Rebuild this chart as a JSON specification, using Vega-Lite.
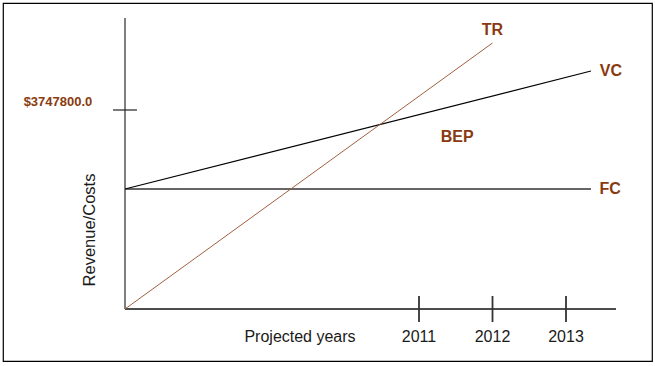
{
  "$schema": "https://vega.github.io/schema/vega-lite/v6.json",
  "width": 655,
  "height": 366,
  "autosize": {"type": "fit", "contains": "padding"},
  "padding": {"left": 3, "top": 3, "right": 3, "bottom": 5},
  "background": "white",
  "config": {"view": {"stroke": "#000", "strokeWidth": 1.2}},
  "layer": [
    {
      "data": {"values": [{"x": 2007, "x2": 2007, "y": 0, "y2": 5480000}]},
      "mark": {"type": "rule", "color": "#555", "strokeWidth": 1.5},
      "encoding": {
        "x": {"field": "x", "type": "quantitative", "scale": {"domain": [2005.3401, 2014.17], "nice": false, "zero": false}, "axis": null},
        "x2": {"field": "x2"},
        "y": {"field": "y", "type": "quantitative", "scale": {"domain": [-979325, 5762950], "nice": false, "zero": false}, "axis": null},
        "y2": {"field": "y2"}
      }
    },
    {
      "data": {"values": [{"x": 2007, "x2": 2013.68, "y": 0, "y2": 0}]},
      "mark": {"type": "rule", "color": "#111", "strokeWidth": 1.5},
      "encoding": {
        "x": {"field": "x", "type": "quantitative"},
        "x2": {"field": "x2"},
        "y": {"field": "y", "type": "quantitative"},
        "y2": {"field": "y2"}
      }
    },
    {
      "data": {"values": [{"x": 2006.837, "x2": 2007.163, "y": 3747800, "y2": 3747800}]},
      "mark": {"type": "rule", "color": "#222", "strokeWidth": 1.2},
      "encoding": {
        "x": {"field": "x", "type": "quantitative"},
        "x2": {"field": "x2"},
        "y": {"field": "y", "type": "quantitative"},
        "y2": {"field": "y2"}
      }
    },
    {
      "data": {"values": [
        {"x": 2011, "x2": 2011, "y": -244800, "y2": 244800},
        {"x": 2012, "x2": 2012, "y": -244800, "y2": 244800},
        {"x": 2013, "x2": 2013, "y": -244800, "y2": 244800}
      ]},
      "mark": {"type": "rule", "color": "#333", "strokeWidth": 1.8},
      "encoding": {
        "x": {"field": "x", "type": "quantitative"},
        "x2": {"field": "x2"},
        "y": {"field": "y", "type": "quantitative"},
        "y2": {"field": "y2"}
      }
    },
    {
      "data": {"values": [{"x": 2007, "x2": 2013.34, "y": 2260000, "y2": 2260000}]},
      "mark": {"type": "rule", "color": "#666", "strokeWidth": 2},
      "encoding": {
        "x": {"field": "x", "type": "quantitative"},
        "x2": {"field": "x2"},
        "y": {"field": "y", "type": "quantitative"},
        "y2": {"field": "y2"}
      }
    },
    {
      "data": {"values": [{"x": 2007, "x2": 2013.34, "y": 2260000, "y2": 4482300}]},
      "mark": {"type": "rule", "color": "#000", "strokeWidth": 1.2},
      "encoding": {
        "x": {"field": "x", "type": "quantitative"},
        "x2": {"field": "x2"},
        "y": {"field": "y", "type": "quantitative"},
        "y2": {"field": "y2"}
      }
    },
    {
      "data": {"values": [{"x": 2007, "x2": 2012, "y": 0, "y2": 5009600}]},
      "mark": {"type": "rule", "color": "#a0603f", "strokeWidth": 1},
      "encoding": {
        "x": {"field": "x", "type": "quantitative"},
        "x2": {"field": "x2"},
        "y": {"field": "y", "type": "quantitative"},
        "y2": {"field": "y2"}
      }
    },
    {
      "data": {"values": [
        {"x": 2012, "y": 5254400, "label": "TR"},
        {"x": 2013.61, "y": 4482300, "label": "VC"},
        {"x": 2013.6, "y": 2260000, "label": "FC"},
        {"x": 2011.52, "y": 3239300, "label": "BEP"}
      ]},
      "mark": {"type": "text", "font": "Liberation Sans", "fontSize": 16, "fontWeight": "bold", "color": "#8a3a10", "align": "center", "baseline": "middle"},
      "encoding": {
        "x": {"field": "x", "type": "quantitative"},
        "y": {"field": "y", "type": "quantitative"},
        "text": {"field": "label"}
      }
    },
    {
      "data": {"values": [{"x": 2006.088, "y": 3898500, "label": "$3747800.0"}]},
      "mark": {"type": "text", "font": "Liberation Sans", "fontSize": 13, "fontWeight": "bold", "color": "#8a3a10", "align": "center", "baseline": "middle"},
      "encoding": {
        "x": {"field": "x", "type": "quantitative"},
        "y": {"field": "y", "type": "quantitative"},
        "text": {"field": "label"}
      }
    },
    {
      "data": {"values": [
        {"x": 2009.381, "y": -527300, "label": "Projected years"},
        {"x": 2011, "y": -527300, "label": "2011"},
        {"x": 2012, "y": -527300, "label": "2012"},
        {"x": 2013, "y": -527300, "label": "2013"}
      ]},
      "mark": {"type": "text", "font": "Liberation Sans", "fontSize": 16, "color": "#1a1a1a", "align": "center", "baseline": "middle"},
      "encoding": {
        "x": {"field": "x", "type": "quantitative"},
        "y": {"field": "y", "type": "quantitative"},
        "text": {"field": "label"}
      }
    },
    {
      "data": {"values": [{"x": 2006.524, "y": 1487800, "label": "Revenue/Costs"}]},
      "mark": {"type": "text", "font": "Liberation Sans", "fontSize": 16.5, "color": "#1a1a1a", "align": "center", "baseline": "middle", "angle": 270},
      "encoding": {
        "x": {"field": "x", "type": "quantitative"},
        "y": {"field": "y", "type": "quantitative"},
        "text": {"field": "label"}
      }
    }
  ]
}
